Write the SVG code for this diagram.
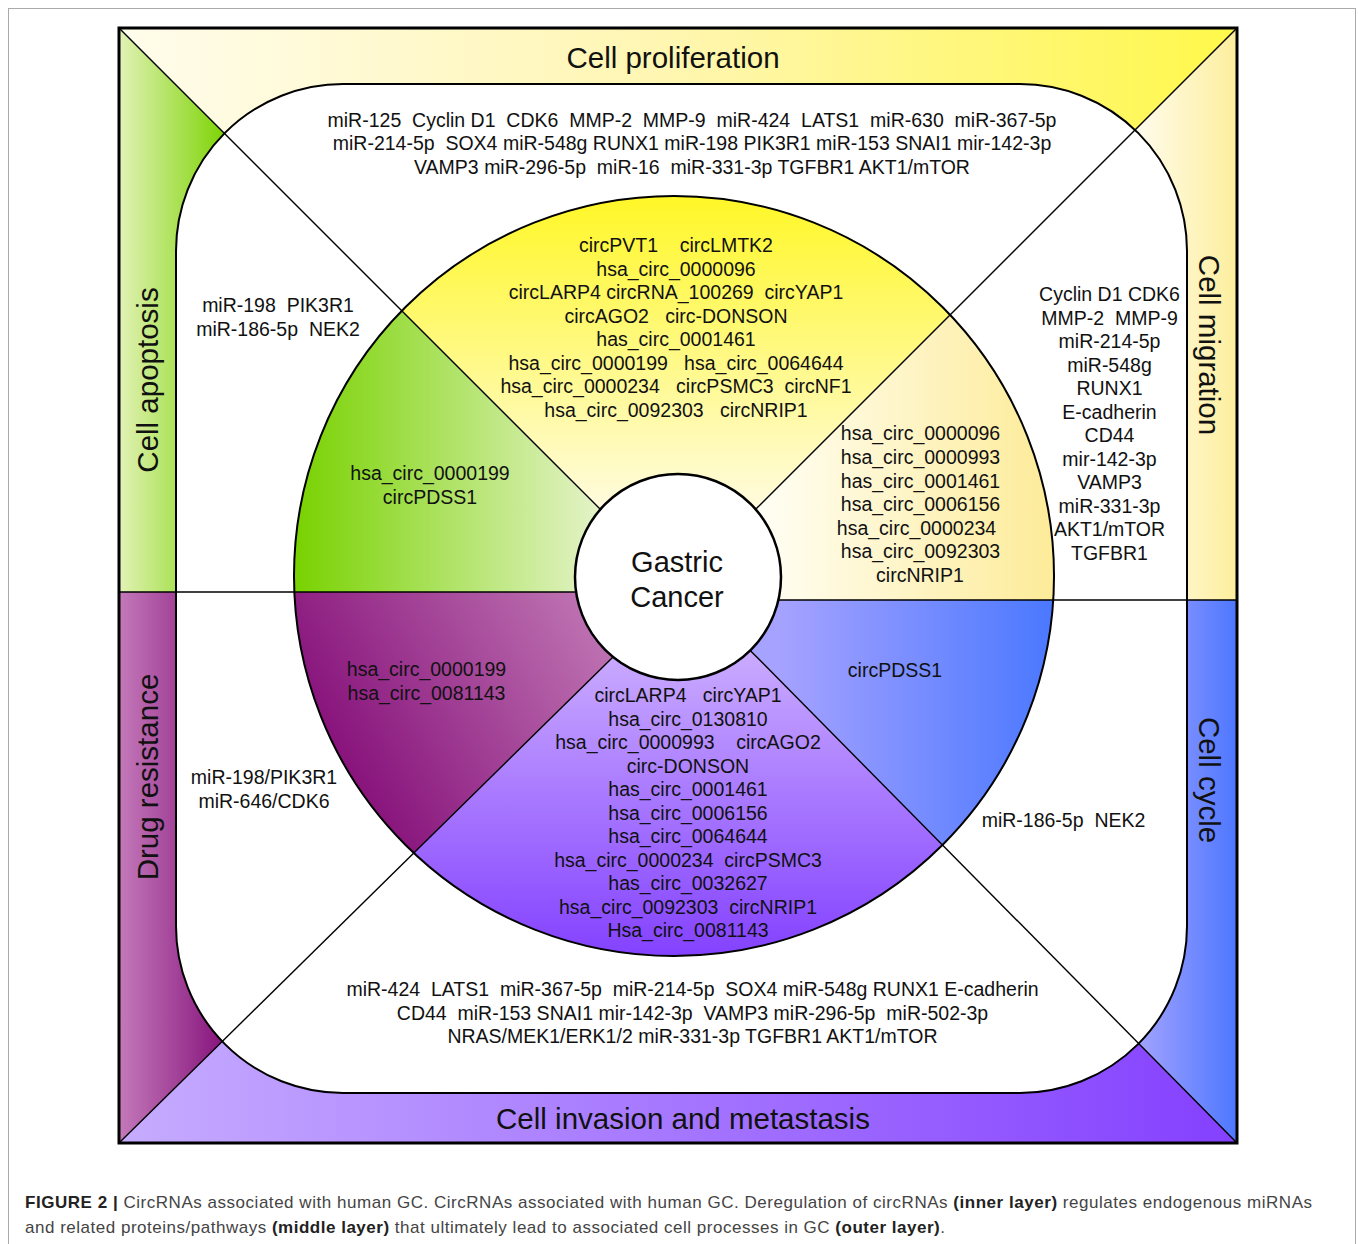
<svg xmlns="http://www.w3.org/2000/svg" width="1358" height="1244" viewBox="0 0 1358 1244">
<style>
text{font-family:"Liberation Sans",Arial,sans-serif;fill:#111;white-space:pre}
.t{font-size:19.5px;text-anchor:middle}
.big{font-size:29.5px;text-anchor:middle}
.gc{font-size:29px;text-anchor:middle}
.cap{font-size:17px;fill:#444}
.cap .b{font-weight:bold;fill:#222}
.ln{stroke:#000;stroke-width:1.4;fill:none}
</style>
<defs>
<linearGradient id="gTop" gradientUnits="userSpaceOnUse" x1="119" y1="0" x2="1237" y2="0"><stop offset="0" stop-color="#fffcec"/><stop offset="0.5" stop-color="#fff6b0"/><stop offset="1" stop-color="#fff84a"/></linearGradient>
<linearGradient id="gApop" gradientUnits="userSpaceOnUse" x1="119" y1="0" x2="228" y2="0"><stop offset="0" stop-color="#e2f2b6"/><stop offset="1" stop-color="#7ad300"/></linearGradient>
<linearGradient id="gMig" gradientUnits="userSpaceOnUse" x1="1135" y1="0" x2="1237" y2="0"><stop offset="0" stop-color="#fffcee"/><stop offset="1" stop-color="#fdee9c"/></linearGradient>
<linearGradient id="gCyc" gradientUnits="userSpaceOnUse" x1="1135" y1="0" x2="1237" y2="0"><stop offset="0" stop-color="#a5a4ff"/><stop offset="1" stop-color="#4d77ff"/></linearGradient>
<linearGradient id="gInv" gradientUnits="userSpaceOnUse" x1="119" y1="0" x2="1237" y2="0"><stop offset="0" stop-color="#c6acff"/><stop offset="1" stop-color="#8440ff"/></linearGradient>
<linearGradient id="gDrug" gradientUnits="userSpaceOnUse" x1="119" y1="0" x2="228" y2="0"><stop offset="0" stop-color="#c47aba"/><stop offset="1" stop-color="#84107a"/></linearGradient>
<linearGradient id="sGreen" gradientUnits="userSpaceOnUse" x1="294" y1="0" x2="600" y2="0"><stop offset="0" stop-color="#78d200"/><stop offset="1" stop-color="#e4f3c8"/></linearGradient>
<linearGradient id="sYel" gradientUnits="userSpaceOnUse" x1="0" y1="195" x2="0" y2="505"><stop offset="0" stop-color="#fff726"/><stop offset="1" stop-color="#fffbdc"/></linearGradient>
<linearGradient id="sLY" gradientUnits="userSpaceOnUse" x1="760" y1="0" x2="1054" y2="0"><stop offset="0" stop-color="#fffef4"/><stop offset="1" stop-color="#fdeb98"/></linearGradient>
<linearGradient id="sBlue" gradientUnits="userSpaceOnUse" x1="780" y1="0" x2="1054" y2="0"><stop offset="0" stop-color="#a6a2ff"/><stop offset="1" stop-color="#4a78ff"/></linearGradient>
<linearGradient id="sPur" gradientUnits="userSpaceOnUse" x1="0" y1="655" x2="0" y2="955"><stop offset="0" stop-color="#c9aaff"/><stop offset="1" stop-color="#8442ff"/></linearGradient>
<linearGradient id="sMag" gradientUnits="userSpaceOnUse" x1="330" y1="760" x2="610" y2="600"><stop offset="0" stop-color="#86107a"/><stop offset="1" stop-color="#c27ab6"/></linearGradient>
</defs>

<rect x="8.5" y="8.5" width="1347" height="1250" fill="#fff" stroke="#aaa" stroke-width="1"/>

<g id="outer-layer">
<polygon id="band-proliferation" points="119,28 1237,28 678,587" fill="url(#gTop)"/>
<polygon id="band-migration" points="1237,28 678,587 678,600 1237,600" fill="url(#gMig)"/>
<polygon id="band-cycle" points="1237,600 1237,1143 700,600" fill="url(#gCyc)"/>
<polygon id="band-invasion" points="119,1143 1237,1143 700,600 671,600" fill="url(#gInv)"/>
<polygon id="band-drug" points="119,592 680,592 119,1143" fill="url(#gDrug)"/>
<polygon id="band-apoptosis" points="119,28 683,592 119,592" fill="url(#gApop)"/>
</g>

<g id="middle-layer">
<rect x="176" y="84" width="1011" height="1009" rx="167" ry="167" fill="#fff" stroke="#000" stroke-width="2"/>
</g>

<g id="inner-layer">
<path id="sector-apoptosis" d="M600.3,509.3 L401.8,310.8 A380,380 0 0 0 294.3,592 L576,592 Z" fill="url(#sGreen)"/>
<path id="sector-proliferation" d="M600.3,509.3 L401.8,310.8 A380,380 0 0 1 950.1,314.9 L755.7,509.3 Z" fill="url(#sYel)"/>
<path id="sector-migration" d="M755.7,509.3 L950.1,314.9 A380,380 0 0 1 1053.2,600 L778,600 Z" fill="url(#sLY)"/>
<path id="sector-cycle" d="M778,600 L1053.2,600 A380,380 0 0 1 942.5,845 L750.2,650.4 Z" fill="url(#sBlue)"/>
<path id="sector-invasion" d="M750.2,650.4 L942.5,845 A380,380 0 0 1 414,852.8 L613,657 Z" fill="url(#sPur)"/>
<path id="sector-drug" d="M613,657 L414,852.8 A380,380 0 0 1 294.3,592 L576,592 Z" fill="url(#sMag)"/>
<circle cx="674" cy="576" r="380" fill="none" stroke="#000" stroke-width="2"/>
</g>

<g id="connectors">
<line class="ln" x1="119" y1="28" x2="600.3" y2="509.3"/>
<line class="ln" x1="1237" y1="28" x2="755.7" y2="509.3"/>
<line class="ln" x1="119" y1="1143" x2="613" y2="657"/>
<line class="ln" x1="1237" y1="1143" x2="750.2" y2="650.4"/>
<line class="ln" x1="119" y1="592" x2="576" y2="592"/>
<line class="ln" x1="778" y1="600" x2="1237" y2="600"/>
</g>

<rect x="119" y="28" width="1118" height="1115" fill="none" stroke="#000" stroke-width="3"/>

<g id="gastric-cancer">
<circle cx="678" cy="577" r="103" fill="#fff" stroke="#000" stroke-width="2.5"/>
<text class="gc" x="677" y="572">Gastric</text>
<text class="gc" x="677" y="607">Cancer</text>
</g>

<g id="label-proliferation"><text class="big" x="673" y="68">Cell proliferation</text></g>
<g id="label-invasion"><text class="big" x="683" y="1129">Cell invasion and metastasis</text></g>
<g id="label-apoptosis"><text class="big" transform="translate(158,380) rotate(-90)">Cell apoptosis</text></g>
<g id="label-drug"><text class="big" transform="translate(158,777) rotate(-90)">Drug resistance</text></g>
<g id="label-migration"><text class="big" transform="translate(1199,345) rotate(90)">Cell migration</text></g>
<g id="label-cycle"><text class="big" transform="translate(1199,780) rotate(90)">Cell cycle</text></g>

<g id="mid-proliferation">
<text class="t" x="692" y="126.5">miR-125  Cyclin D1  CDK6  MMP-2  MMP-9  miR-424  LATS1  miR-630  miR-367-5p</text>
<text class="t" x="692" y="150">miR-214-5p  SOX4 miR-548g RUNX1 miR-198 PIK3R1 miR-153 SNAI1 mir-142-3p</text>
<text class="t" x="692" y="173.5">VAMP3 miR-296-5p  miR-16  miR-331-3p TGFBR1 AKT1/mTOR</text>
</g>

<g id="inner-proliferation">
<text class="t" x="676" y="252">circPVT1    circLMTK2</text>
<text class="t" x="676" y="275.5">hsa_circ_0000096</text>
<text class="t" x="676" y="299">circLARP4 circRNA_100269  circYAP1</text>
<text class="t" x="676" y="322.5">circAGO2   circ-DONSON</text>
<text class="t" x="676" y="346">has_circ_0001461</text>
<text class="t" x="676" y="369.5">hsa_circ_0000199   hsa_circ_0064644</text>
<text class="t" x="676" y="393">hsa_circ_0000234   circPSMC3  circNF1</text>
<text class="t" x="676" y="416.5">hsa_circ_0092303   circNRIP1</text>
</g>

<g id="inner-apoptosis">
<text class="t" x="430" y="480">hsa_circ_0000199</text>
<text class="t" x="430" y="503.5">circPDSS1</text>
</g>

<g id="mid-apoptosis">
<text class="t" x="278" y="312">miR-198  PIK3R1</text>
<text class="t" x="278" y="335.5">miR-186-5p  NEK2</text>
</g>

<g id="inner-migration">
<text class="t" x="920.5" y="440">hsa_circ_0000096</text>
<text class="t" x="920.5" y="463.5">hsa_circ_0000993</text>
<text class="t" x="920.5" y="487.5">has_circ_0001461</text>
<text class="t" x="920.5" y="511">hsa_circ_0006156</text>
<text class="t" x="916.5" y="534.5">hsa_circ_0000234</text>
<text class="t" x="920.5" y="558">hsa_circ_0092303</text>
<text class="t" x="920" y="581.5">circNRIP1</text>
</g>

<g id="mid-migration">
<text class="t" x="1109.5" y="301">Cyclin D1 CDK6</text>
<text class="t" x="1109.5" y="324.5">MMP-2  MMP-9</text>
<text class="t" x="1109.5" y="348">miR-214-5p</text>
<text class="t" x="1109.5" y="371.5">miR-548g</text>
<text class="t" x="1109.5" y="395">RUNX1</text>
<text class="t" x="1109.5" y="418.5">E-cadherin</text>
<text class="t" x="1109.5" y="442">CD44</text>
<text class="t" x="1109.5" y="465.5">mir-142-3p</text>
<text class="t" x="1109.5" y="489">VAMP3</text>
<text class="t" x="1109.5" y="512.5">miR-331-3p</text>
<text class="t" x="1109.5" y="536">AKT1/mTOR</text>
<text class="t" x="1109.5" y="559.5">TGFBR1</text>
</g>

<g id="inner-drug">
<text class="t" x="426.5" y="676">hsa_circ_0000199</text>
<text class="t" x="426.5" y="699.5">hsa_circ_0081143</text>
</g>

<g id="mid-drug">
<text class="t" x="264" y="784">miR-198/PIK3R1</text>
<text class="t" x="264" y="807.5">miR-646/CDK6</text>
</g>

<g id="inner-cycle">
<text class="t" x="895" y="677">circPDSS1</text>
</g>

<g id="mid-cycle">
<text class="t" x="1063.5" y="827">miR-186-5p  NEK2</text>
</g>

<g id="inner-invasion">
<text class="t" x="688" y="702">circLARP4   circYAP1</text>
<text class="t" x="688" y="725.5">hsa_circ_0130810</text>
<text class="t" x="688" y="749">hsa_circ_0000993    circAGO2</text>
<text class="t" x="688" y="772.5">circ-DONSON</text>
<text class="t" x="688" y="796">has_circ_0001461</text>
<text class="t" x="688" y="819.5">hsa_circ_0006156</text>
<text class="t" x="688" y="843">hsa_circ_0064644</text>
<text class="t" x="688" y="866.5">hsa_circ_0000234  circPSMC3</text>
<text class="t" x="688" y="890">has_circ_0032627</text>
<text class="t" x="688" y="913.5">hsa_circ_0092303  circNRIP1</text>
<text class="t" x="688" y="937">Hsa_circ_0081143</text>
</g>

<g id="mid-invasion">
<text class="t" x="692.5" y="996">miR-424  LATS1  miR-367-5p  miR-214-5p  SOX4 miR-548g RUNX1 E-cadherin</text>
<text class="t" x="692.5" y="1019.5">CD44  miR-153 SNAI1 mir-142-3p  VAMP3 miR-296-5p  miR-502-3p</text>
<text class="t" x="692.5" y="1043">NRAS/MEK1/ERK1/2 miR-331-3p TGFBR1 AKT1/mTOR</text>
</g>

<g id="caption">
<text class="cap" x="25" y="1208" textLength="1287" lengthAdjust="spacing"><tspan class="b">FIGURE 2 |</tspan> CircRNAs associated with human GC. CircRNAs associated with human GC. Deregulation of circRNAs <tspan class="b">(inner layer)</tspan> regulates endogenous miRNAs</text>
<text class="cap" x="25" y="1233" textLength="920" lengthAdjust="spacing">and related proteins/pathways <tspan class="b">(middle layer)</tspan> that ultimately lead to associated cell processes in GC <tspan class="b">(outer layer)</tspan>.</text>
</g>
</svg>
